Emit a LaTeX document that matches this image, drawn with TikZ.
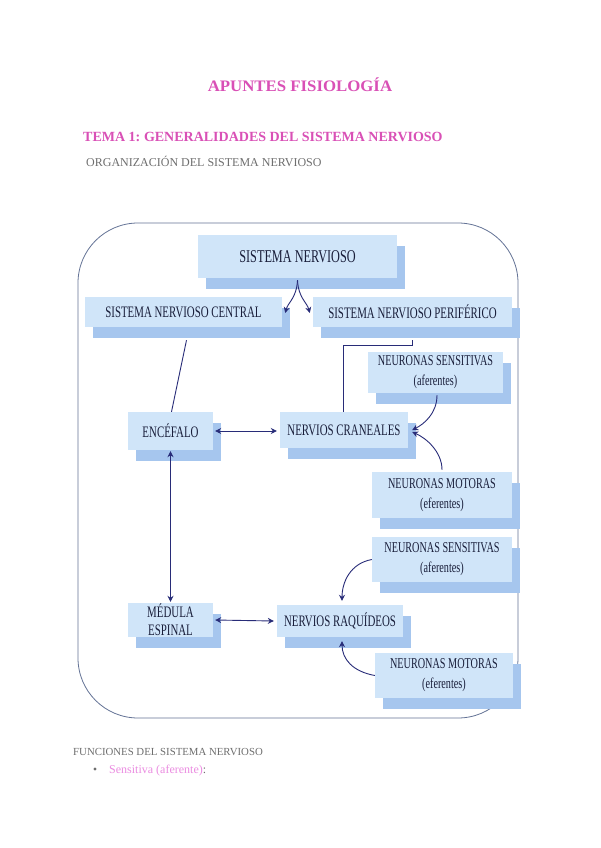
\documentclass[tikz,border=0pt]{standalone}
\usepackage{fontspec}
\setmainfont{Liberation Serif}
\newfontfamily\boxfont[FakeStretch=0.68]{Liberation Serif}
\newfontfamily\titlefont[FakeStretch=1.05]{Liberation Serif}
\usetikzlibrary{shadows,arrows.meta}
\definecolor{pinktitle}{RGB}{217,80,182}
\definecolor{pinklight}{RGB}{235,140,225}
\definecolor{graytext}{RGB}{110,110,110}
\definecolor{boxfront}{RGB}{208,229,249}
\definecolor{boxshadow}{RGB}{166,198,238}
\definecolor{boxtext}{RGB}{25,30,58}
\definecolor{navy}{RGB}{40,44,120}
\definecolor{framecol}{RGB}{100,115,150}
\begin{document}
\begin{tikzpicture}[x=1pt,y=-1pt,
  frontbox/.style={fill=boxfront, draw=none, inner sep=0pt, align=center,
    text=boxtext, font=\boxfont\fontsize{16}{18}\selectfont,
    drop shadow={shadow xshift=8pt, shadow yshift=-11pt, fill=boxshadow, opacity=1}},
  neubox/.style={frontbox, font=\boxfont\fontsize{15}{20}\selectfont},
  conn/.style={draw=navy, line width=0.9pt},
  arr/.style={conn, -{Stealth[length=6pt,width=6pt]}},
  dbl/.style={conn, {Stealth[length=6pt,width=6pt]}-{Stealth[length=6pt,width=6pt]}},
  plain/.style={inner sep=0pt, anchor=base west}]
\useasboundingbox[fill=white] (0,0) rectangle (600,848);

% headings
\node[inner sep=0pt, anchor=base, text=pinktitle, font=\titlefont\bfseries\fontsize{16}{18}\selectfont] (title) at (300,92) {APUNTES FISIOLOGÍA};
\node[plain, text=pinktitle, font=\bfseries\fontsize{14}{16}\selectfont] (tema) at (83,142) {TEMA 1:\hspace{-1pt} GENERALIDADES DEL SISTEMA NERVIOSO};
\node[plain, text=graytext, font=\fontsize{12}{14}\selectfont] (org) at (86,166) {ORGANIZACIÓN DEL SISTEMA NERVIOSO};

% frame
\draw[draw=framecol, line width=0.8pt, rounded corners=60pt] (78,223) rectangle (518,718);

% boxes
\node[frontbox, minimum width=199pt, minimum height=43pt, font=\boxfont\fontsize{18}{20}\selectfont] (sn) at (297.5,256.5) {SISTEMA NERVIOSO};
\node[frontbox, minimum width=197pt, minimum height=30pt] (snc) at (183.5,312) {SISTEMA NERVIOSO CENTRAL};
\node[frontbox, minimum width=199pt, minimum height=30pt] (snp) at (412.5,312) {SISTEMA NERVIOSO PERIFÉRICO};
\node[frontbox, minimum width=85pt, minimum height=38pt] (enc) at (170.5,431) {ENCÉFALO};
\node[frontbox, minimum width=128pt, minimum height=36pt] (ncr) at (344,430) {NERVIOS CRANEALES};
\node[neubox, minimum width=135pt, minimum height=41pt] (ns1) at (435.5,372.5) {NEURONAS SENSITIVAS\\(aferentes)};
\node[neubox, minimum width=140pt, minimum height=46pt] (nm1) at (442,495) {NEURONAS MOTORAS\\(eferentes)};
\node[frontbox, minimum width=85pt, minimum height=34pt] (med) at (170.5,620) {MÉDULA\\ESPINAL};
\node[frontbox, minimum width=126pt, minimum height=32pt] (nrq) at (340,621) {NERVIOS RAQUÍDEOS};
\node[neubox, minimum width=140pt, minimum height=45pt] (ns2) at (442,559.5) {NEURONAS SENSITIVAS\\(aferentes)};
\node[neubox, minimum width=138pt, minimum height=45pt] (nm2) at (444,675.5) {NEURONAS MOTORAS\\(eferentes)};

% connectors
\draw[arr] ([yshift=-2pt]sn.south) .. controls +(-1,18) and +(3,-11) .. ([xshift=3pt,yshift=-1pt]snc.east);
\draw[arr] ([yshift=-2pt]sn.south) .. controls +(1,18) and +(-3,-11) .. ([xshift=-3pt,yshift=-1pt]snp.west);
\draw[conn] ([xshift=3pt,yshift=-13pt]snc.south) -- ([xshift=1pt]enc.north);
\draw[conn] ([yshift=-13pt]snp.south) -- ++(0,5) -| ([xshift=-1pt]ncr.north);
\draw[dbl] ([xshift=2pt]enc.east) -- ([xshift=-3pt,yshift=-1pt]ncr.west);
\draw[arr] ([xshift=1.5pt,yshift=-2pt]ns1.south) .. controls +(0,18) and +(12,-6) .. ([xshift=4pt]ncr.east);
\draw[arr] ([yshift=2pt]nm1.north) .. controls +(0,-18) and +(14,6) .. ([xshift=4pt,yshift=-2pt]ncr.east);
\draw[dbl] ([yshift=-1pt]enc.south) -- ([yshift=1pt]med.north);
\draw[dbl] ([xshift=2pt]med.east) -- ([xshift=-3pt]nrq.west);
\draw[arr] (ns2.west) .. controls +(-22,4) and +(0,-18) .. ([xshift=2pt,yshift=4pt]nrq.north);
\draw[arr] (nm2.west) .. controls +(-22,-4) and +(0,18) .. ([xshift=2pt,yshift=-4pt]nrq.south);

% bottom text
\node[plain, text=graytext, font=\fontsize{10.8}{12}\selectfont] (func) at (73,755) {FUNCIONES DEL SISTEMA NERVIOSO};
\fill[graytext] (95,769) circle (1.6pt);
\node[plain, text=pinklight, font=\fontsize{12}{14}\selectfont] (sens) at (109,773) {Sensitiva (aferente)\textcolor{graytext}{:}};
\end{tikzpicture}
\end{document}
